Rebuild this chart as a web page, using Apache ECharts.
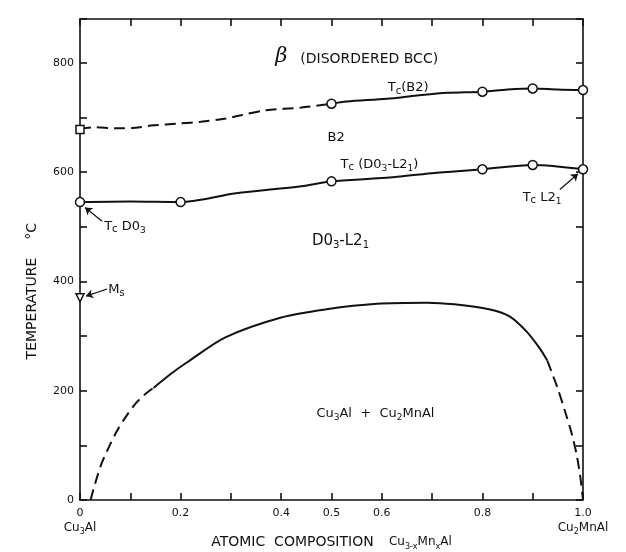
<!DOCTYPE html>
<html>
<head>
<meta charset="utf-8">
<title>Cu3Al - Cu2MnAl</title>
<script src="https://cdn.jsdelivr.net/npm/echarts@6.0.0/dist/echarts.min.js"></script>
<style>
  html, body { margin: 0; padding: 0; background: #fff; }
  #chart { width: 626px; height: 552px; }
</style>
</head>
<body>
<div id="chart"></div>
<script>
// labelled ticks
var xLabelled = [0, 0.2, 0.4, 0.5, 0.6, 0.8, 1.0];
var yLabelled = [0, 200, 400, 600, 800];

// Tc(B2) boundary
var tcB2Dashed = [[0, 680], [0.03, 682], [0.07, 680], [0.11, 681], [0.14, 685], [0.2, 689], [0.24, 692],
                  [0.29, 698], [0.32, 704], [0.37, 713], [0.44, 718], [0.5, 725]];
var tcB2Solid = [[0.5, 725], [0.53, 729], [0.61, 734], [0.67, 740], [0.73, 745], [0.8, 747],
                 [0.85, 751], [0.9, 753], [0.95, 751], [1.0, 750]];
var tcB2Points = [[0.5, 725], [0.8, 747], [0.9, 753], [1.0, 750]];

// Tc(D03-L21) boundary
var tcL21Line = [[0, 545], [0.1, 546], [0.2, 545], [0.31, 561], [0.44, 574], [0.5, 583], [0.6, 589],
                 [0.7, 598], [0.8, 605], [0.9, 613], [1.0, 605]];
var tcL21Points = [[0, 545], [0.2, 545], [0.5, 583], [0.8, 605], [0.9, 613], [1.0, 605]];

// Cu3Al + Cu2MnAl two phase boundary
var sepDashedLeft = [[0.021, 0], [0.03, 30], [0.043, 67], [0.056, 94], [0.072, 124], [0.091, 152],
                     [0.11, 176], [0.13, 194], [0.146, 205]];
var sepSolid = [[0.146, 205], [0.181, 231], [0.213, 252], [0.29, 298], [0.4, 334], [0.49, 349],
                [0.59, 359], [0.69, 361], [0.744, 358], [0.813, 349], [0.854, 336], [0.888, 308],
                [0.915, 276], [0.929, 255]];
var sepDashedRight = [[0.929, 255], [0.949, 206], [0.965, 160], [0.978, 120], [0.988, 80], [0.995, 40], [1.0, 0]];

var msPoint = [[0, 370]];
var startPoint = [[0, 678]];

// annotations: text, x, y (data units)
var notes = [
    ['{gk|β}', 0.388, 812],
    ['{wd|(DISORDERED BCC)}', 0.438, 807],
    ['{tx|T}{sm|c}{tx|(B2)}', 0.612, 754],
    ['{tx|B2}', 0.492, 663],
    ['{tx|T}{sm|c}{tx| (D0}{sb|3}{tx|-L2}{sb|1}{tx|)}', 0.518, 614],
    ['{tx|T}{sm|c}{tx| D0}{sb|3}', 0.048, 501],
    ['{bg|D0}{bs|3}{bg|-L2}{bs|1}', 0.461, 474],
    ['{tx|T}{sm|c}{tx| L2}{sb|1}', 0.88, 554],
    ['{tx|M}{sm|s}', 0.056, 384],
    ['{tx|Cu}{sb|3}{tx|Al  +  Cu}{sb|2}{tx|MnAl}', 0.47, 158]
];
var arrows = [
    [[0.044, 510], [0.01, 535]],
    [[0.954, 568], [0.99, 597]],
    [[0.054, 386], [0.012, 373]]
];

var ink = '#111';
var font = 'DejaVu Sans';

function richSet(size) {
    return {
        tx: { fontFamily: font, fontSize: size, color: ink, lineHeight: size + 4 },
        tk: { fontFamily: font, fontSize: 11, color: ink, lineHeight: 14 },
        sb: { fontFamily: font, fontSize: size - 4, color: ink, lineHeight: size - 4, verticalAlign: 'bottom' },
        sm: { fontFamily: font, fontSize: size - 3, color: ink, lineHeight: size - 2, verticalAlign: 'bottom' },
        bg: { fontFamily: font, fontSize: 15, color: ink, lineHeight: 19 },
        bs: { fontFamily: font, fontSize: 10, color: ink, lineHeight: 10, verticalAlign: 'bottom' },
        wd: { fontFamily: font, fontSize: 14, color: ink, lineHeight: 18 },
        ax: { fontFamily: font, fontSize: 14, color: ink, lineHeight: 18 },
        gk: { fontFamily: 'DejaVu Serif', fontStyle: 'italic', fontSize: 21, color: ink, lineHeight: 24 }
    };
}

var chart = echarts.init(document.getElementById('chart'), null, { renderer: 'canvas' });

function lineSeries(data, dashed) {
    return {
        type: 'line', data: data, xAxisIndex: 0, yAxisIndex: 0,
        smooth: 0.3, symbol: 'none', silent: true, z: 3,
        lineStyle: { color: ink, width: 2, type: dashed ? [11, 6] : 'solid' }
    };
}

function markSeries(data, symbol, size, rotate) {
    return {
        type: 'scatter', data: data, symbol: symbol, symbolSize: size, symbolRotate: rotate || 0,
        silent: true, z: 5,
        itemStyle: { color: '#fff', borderColor: ink, borderWidth: 1.5, opacity: 1 }
    };
}

var noteData = notes.map(function (n) {
    return { value: [n[1], n[2]], txt: n[0] };
});
noteData.push({
    value: [-0.095, 382], txt: '{ax|TEMPERATURE    °C}',
    label: { rotate: 90, align: 'center' }
});

var axisLineStyle = { color: ink, width: 1.6 };

var option = {
    backgroundColor: '#fff',
    animation: false,
    grid: { left: 80, right: 43, top: 19, bottom: 52, outerBoundsMode: 'none' },
    xAxis: [{
        type: 'value', position: 'bottom', min: 0, max: 1, interval: 0.1,
        axisLine: { onZero: false, lineStyle: axisLineStyle },
        axisTick: { inside: true, length: 7, lineStyle: axisLineStyle },
        splitLine: { show: false },
        axisLabel: {
            margin: 6, rich: richSet(12),
            formatter: function (v) {
                var r = Math.round(v * 10) / 10;
                if (xLabelled.indexOf(r) < 0) return '';
                if (r === 0) return '{tk|0}\n{tx|Cu}{sb|3}{tx|Al}';
                if (r === 1) return '{tk|1.0}\n{tx|Cu}{sb|2}{tx|MnAl}';
                return '{tk|' + r.toFixed(1) + '}';
            }
        },
        name: '{ax|ATOMIC  COMPOSITION}{nm|    Cu}{ns|3-x}{nm|Mn}{ns|x}{nm|Al}',
        nameLocation: 'middle', nameGap: 33, nameMoveOverlap: false,
        nameTextStyle: {
            rich: Object.assign(richSet(13), {
                nm: { fontFamily: font, fontSize: 12, color: ink, lineHeight: 18 },
                ns: { fontFamily: font, fontSize: 8, color: ink, lineHeight: 8, verticalAlign: 'bottom' }
            })
        }
    }, {
        type: 'value', position: 'top', min: 0, max: 1, interval: 0.1,
        axisLine: { onZero: false, lineStyle: axisLineStyle },
        axisTick: { inside: true, length: 7, lineStyle: axisLineStyle },
        axisLabel: { show: false },
        splitLine: { show: false }
    }],
    yAxis: [{
        type: 'value', position: 'left', min: 0, max: 880, interval: 100,
        axisLine: { show: true, onZero: false, lineStyle: axisLineStyle },
        axisTick: { show: true, inside: true, length: 7, lineStyle: axisLineStyle },
        splitLine: { show: false },
        axisLabel: {
            margin: 6, fontFamily: font, fontSize: 11, color: ink,
            formatter: function (v) {
                return yLabelled.indexOf(v) >= 0 ? String(v) : '';
            }
        }
    }, {
        type: 'value', position: 'right', min: 0, max: 880, interval: 100,
        axisLine: { show: true, onZero: false, lineStyle: axisLineStyle },
        axisTick: { show: true, inside: true, length: 7, lineStyle: axisLineStyle },
        axisLabel: { show: false },
        splitLine: { show: false }
    }],
    series: [
        lineSeries(tcB2Dashed, true),
        lineSeries(tcB2Solid, false),
        lineSeries(tcL21Line, false),
        lineSeries(sepDashedLeft, true),
        lineSeries(sepSolid, false),
        lineSeries(sepDashedRight, true),
        markSeries(tcB2Points, 'circle', 9),
        markSeries(tcL21Points, 'circle', 9),
        markSeries(startPoint, 'rect', 8),
        markSeries(msPoint, 'triangle', 8, 180),
        {
            type: 'scatter', data: noteData, symbolSize: 1, silent: true, z: 6, clip: false,
            itemStyle: { color: 'transparent', opacity: 1 },
            label: {
                show: true, position: 'inside', align: 'left', verticalAlign: 'middle',
                color: ink, opacity: 1, textBorderWidth: 0, rich: richSet(13),
                formatter: function (p) { return p.data.txt; }
            },
            markLine: {
                silent: true, symbol: ['none', 'arrow'], symbolSize: 7,
                label: { show: false },
                lineStyle: { color: ink, width: 1.2, type: 'solid', opacity: 1 },
                data: arrows.map(function (a) {
                    return [{ coord: a[0] }, { coord: a[1] }];
                })
            }
        }
    ]
};

chart.setOption(option);
</script>
</body>
</html>
